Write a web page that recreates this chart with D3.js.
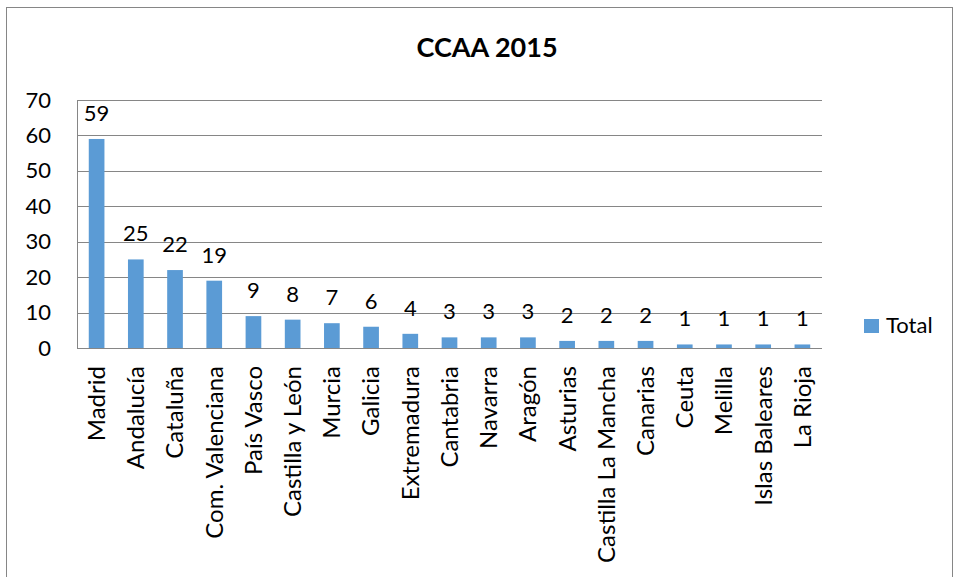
<!DOCTYPE html>
<html><head><meta charset="utf-8">
<script src="https://cdn.jsdelivr.net/npm/d3@7"></script>
<style>body{margin:0;background:#fff}svg{display:block}text{font-family:Lato,"Open Sans",sans-serif;fill:#000}</style>
</head><body>
<script>
const categories = ["Madrid","Andalucía","Cataluña","Com. Valenciana","País Vasco","Castilla y León","Murcia","Galicia","Extremadura","Cantabria","Navarra","Aragón","Asturias","Castilla La Mancha","Canarias","Ceuta","Melilla","Islas Baleares","La Rioja"];
const values = [59,25,22,19,9,8,7,6,4,3,3,3,2,2,2,1,1,1,1];
const yTicks = [0,10,20,30,40,50,60,70];
const title = "CCAA 2015";
const seriesName = "Total";

const W=955,H=577;
const m={l:77,r:822,t:100,b:348};
const svg=d3.select("body").append("svg").attr("width",W).attr("height",H);
svg.append("rect").attr("x",6.5).attr("y",7.5).attr("width",946).attr("height",580).attr("fill","#fff").attr("stroke","#868686");

const x=d3.scaleBand().domain(categories).range([m.l,m.r]).paddingInner(0.6).paddingOuter(0.3);
const y=d3.scaleLinear().domain([0,70]).range([m.b,m.t]);

const grid=svg.append("g");
grid.selectAll("line").data(yTicks).join("line")
 .attr("x1",m.l).attr("x2",m.r).attr("y1",d=>Math.round(y(d))+0.5).attr("y2",d=>Math.round(y(d))+0.5)
 .attr("stroke","#868686").attr("stroke-width",1);
svg.append("line").attr("x1",m.l+0.5).attr("x2",m.l+0.5).attr("y1",m.t).attr("y2",m.b).attr("stroke","#868686");

const yAxis=d3.axisLeft(y).tickValues(yTicks).tickSize(0).tickPadding(0);
const ya=svg.append("g").attr("transform",`translate(51,0)`).call(yAxis);
ya.select(".domain").remove();
ya.selectAll("text").attr("font-size",22).attr("font-family","Lato,sans-serif").attr("fill","#000");

svg.append("g").selectAll("rect").data(values).join("rect")
 .attr("x",(d,i)=>x(categories[i])).attr("width",x.bandwidth())
 .attr("y",d=>y(d)).attr("height",d=>y(0)-y(d)).attr("fill","#5B9BD5");

svg.append("g").selectAll("text").data(values).join("text")
 .attr("x",(d,i)=>x(categories[i])+x.bandwidth()/2).attr("y",d=>y(d)-18)
 .attr("text-anchor","middle").attr("font-size",22).text(d=>d);

const xAxis=d3.axisBottom(x).tickSize(0).tickPadding(0);
const xa=svg.append("g").attr("transform",`translate(0,${m.b})`).call(xAxis);
xa.select(".domain").remove();
xa.selectAll("text").attr("font-size",24).attr("font-family","Lato,sans-serif").attr("fill","#000")
 .attr("transform","rotate(-90)").attr("text-anchor","end").attr("dx","-18").attr("dy","0.35em").attr("y",0).attr("x",0);
xa.selectAll(".tick").attr("transform",d=>`translate(${x(d)+x.bandwidth()/2},0)`);

svg.append("text").attr("x",487).attr("y",57).attr("text-anchor","middle").attr("font-size",27).attr("font-weight","bold").text(title);

svg.append("rect").attr("x",864).attr("y",319).attr("width",15).attr("height",14).attr("fill","#5B9BD5");
svg.append("text").attr("x",886).attr("y",333).attr("font-size",22).text(seriesName);
</script>
</body></html>
